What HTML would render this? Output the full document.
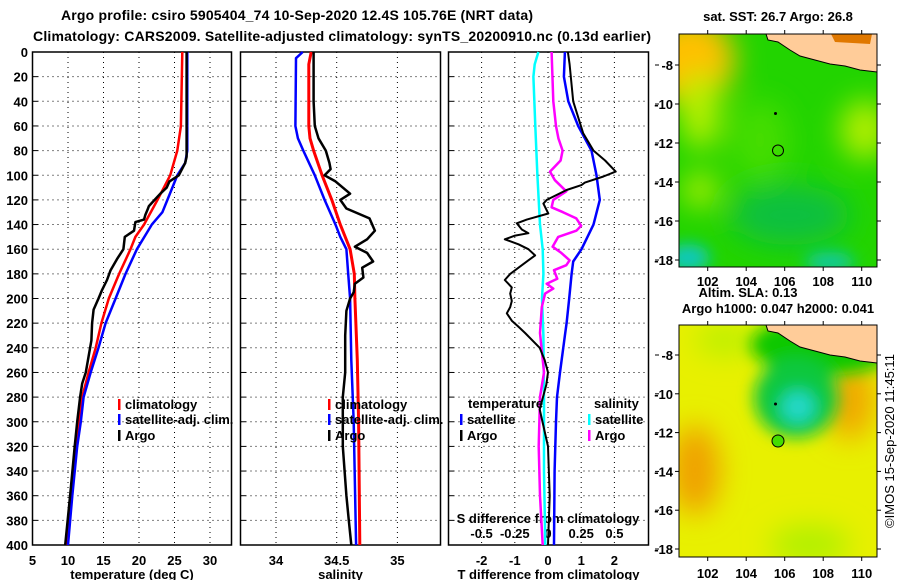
<!DOCTYPE html>
<html><head><meta charset="utf-8"><style>
body{margin:0;background:#fff;}
svg text{font-family:"Liberation Sans",sans-serif;font-weight:bold;fill:#000;}
</style></head><body>
<svg id="c" width="900" height="580" viewBox="0 0 900 580" xmlns="http://www.w3.org/2000/svg">
<defs>
<filter id="bl" x="-50%" y="-50%" width="200%" height="200%"><feGaussianBlur stdDeviation="14"/></filter>
<filter id="bl2" x="-50%" y="-50%" width="200%" height="200%"><feGaussianBlur stdDeviation="8"/></filter>
<clipPath id="m1c"><rect x="679" y="34" width="198" height="233"/></clipPath>
<clipPath id="m2c"><rect x="679" y="325" width="198" height="232"/></clipPath>
</defs>
<text x="297" y="20" font-size="14" text-anchor="middle" textLength="472">Argo profile: csiro 5905404_74 10-Sep-2020 12.4S 105.76E (NRT data)</text>
<text x="342" y="41" font-size="14" text-anchor="middle" textLength="618">Climatology: CARS2009. Satellite-adjusted climatology: synTS_20200910.nc (0.13d earlier)</text>

<g clip-path="url(#m1c)">
<rect x="679" y="34" width="198" height="233" fill="#22d400"/>
<g filter="url(#bl)">
<ellipse cx="690" cy="60" rx="45" ry="45" fill="#ffc000"/>
<ellipse cx="700" cy="110" rx="20" ry="40" fill="#b8f000"/>
<ellipse cx="865" cy="130" rx="25" ry="30" fill="#b0ee00"/>
<ellipse cx="700" cy="190" rx="18" ry="18" fill="#aaee00"/>
<ellipse cx="760" cy="140" rx="30" ry="40" fill="#44dd00"/>
<ellipse cx="790" cy="215" rx="60" ry="30" fill="#10c040"/>
</g>
<g filter="url(#bl2)">
<ellipse cx="688" cy="258" rx="22" ry="14" fill="#10c8c0"/>
<ellipse cx="830" cy="262" rx="25" ry="10" fill="#10c8a8"/>
</g>
<polygon points="766,34 877,34 877,72 860,70 845,66 830,64 815,60 800,56 790,50 778,42 768,40" fill="#ffcc99" stroke="#000" stroke-width="1"/>
<polygon points="831,34 872,34 870,44 835,42" fill="#e07800"/>
</g>
<rect x="679" y="34" width="198" height="233" fill="none" stroke="#000"/>
<circle cx="778" cy="150.5" r="5.5" fill="none" stroke="#000"/>
<circle cx="775.5" cy="113.5" r="1.5" fill="#000"/>
<text x="778" y="21" font-size="13" text-anchor="middle">sat. SST: 26.7 Argo: 26.8</text>
<text x="748" y="297" font-size="13" text-anchor="middle">Altim. SLA: 0.13</text>
<text x="778" y="313" font-size="13" text-anchor="middle">Argo h1000: 0.047 h2000: 0.041</text>

<g clip-path="url(#m2c)">
<rect x="679" y="325" width="198" height="232" fill="#e8f000"/>
<g filter="url(#bl)">
<ellipse cx="695" cy="470" rx="25" ry="45" fill="#f0a000"/>
<ellipse cx="850" cy="400" rx="25" ry="40" fill="#f0a800"/>
<ellipse cx="810" cy="545" rx="40" ry="20" fill="#b0f000"/>
<ellipse cx="725" cy="340" rx="30" ry="15" fill="#b8f000"/>
</g>
<g filter="url(#bl2)">
<ellipse cx="825" cy="345" rx="75" ry="30" fill="#10c800"/>
<ellipse cx="796" cy="398" rx="42" ry="40" fill="#10c840"/>
<ellipse cx="798" cy="407" rx="17" ry="16" fill="#20d8c8"/>
</g>
<polygon points="766,325 877,325 877,363 860,361 845,357 830,355 815,351 800,347 790,341 778,333 768,331" fill="#ffcc99" stroke="#000" stroke-width="1"/>
</g>
<rect x="679" y="325" width="198" height="232" fill="none" stroke="#000"/>
<circle cx="778" cy="441" r="6" fill="#44dd00" stroke="#000"/>
<circle cx="775.5" cy="404" r="1.5" fill="#000"/>
<text transform="translate(894,441) rotate(-90)" font-size="13" text-anchor="middle" style="font-weight:normal">©IMOS 15-Sep-2020 11:45:11</text>
<g id="g"></g>
</svg>
<script>
// ---- data ----
const depthTicks=[0,20,40,60,80,100,120,140,160,180,200,220,240,260,280,300,320,340,360,380,400];
const tempTicks=[5,10,15,20,25,30];
const salTicks=[34,34.5,35];
const tdiffTicks=[-2,-1,0,1,2];
const sdiffTickVals=[-0.5,-0.25,0,0.25,0.5];
const sdiffTickLabels=["-0.5","-0.25","0","0.25","0.5"];
const lonTicks=[102,104,106,108,110];
const latTicks=[-8,-10,-12,-14,-16,-18];

const climTDepth=[0,60,80,100,120,140,150,160,180,200,220,240,260,280,300,320,360,400];
const climT=[26.1,25.9,25.4,24.4,22.6,20.7,19.5,18.8,17.2,15.75,14.7,13.9,12.9,12.0,11.5,11.1,10.35,9.8];
const satTDepth=[0,80,90,100,120,130,140,160,180,200,220,240,260,280,300,320,360,400];
const satT=[26.8,26.8,26.5,25.4,24.0,23.3,21.8,19.7,18.1,16.7,15.3,14.3,13.2,12.2,11.8,11.3,10.6,10.0];
const argoTDepth=[0,85,90,100,105,110,115,120,125,128,132,136,138,145,150,160,168,177,185,193,200,209,220,234,247,260,269,280,300,320,360,400];
const argoT=[26.7,26.7,26.5,25.6,24.3,23.9,23.0,22.2,21.4,21.2,20.9,20.7,19.5,19.3,18.0,17.8,16.9,16.0,15.5,14.8,14.3,13.6,13.4,13.3,12.9,12.5,12.0,11.7,11.3,10.95,10.3,9.6];

const climSDepth=[0,10,60,70,80,100,120,140,160,180,200,250,300,400];
const climS=[34.29,34.27,34.27,34.28,34.31,34.38,34.46,34.53,34.61,34.645,34.65,34.67,34.68,34.69];
const satSDepth=[0,5,60,70,80,100,120,140,150,160,180,200,250,300,400];
const satS=[34.22,34.165,34.16,34.18,34.225,34.32,34.40,34.49,34.53,34.58,34.595,34.61,34.62,34.64,34.66];
const argoSDepth=[0,40,60,70,80,90,95,100,105,115,120,127,135,145,152,158,163,170,175,183,188,195,200,210,230,260,280,320,360,380,400];
const argoS=[34.31,34.31,34.32,34.35,34.41,34.44,34.45,34.40,34.49,34.61,34.53,34.58,34.77,34.815,34.75,34.65,34.75,34.80,34.71,34.72,34.65,34.64,34.61,34.58,34.57,34.57,34.55,34.55,34.58,34.6,34.62];

const satTdDepth=[0,20,40,60,80,100,120,140,160,170,180,200,220,230,260,280,300,340,400];
const satTd=[0.51,0.48,0.61,0.91,1.31,1.46,1.56,1.37,1.01,0.76,0.71,0.64,0.56,0.51,0.36,0.27,0.24,0.2,0.18];
const argoTdDepth=[0,10,40,66,80,88,97,101,106,108,112,120,123,131,136,139,144,147,149,152,156,160,165,169,175,180,185,191,196,202,207,212,218,223,228,240,250,260,270,290,320,360,400];
const argoTd=[0.6,0.65,0.76,1.06,1.37,1.72,2.04,1.67,1.11,1.01,0.56,-0.04,-0.14,0.01,-0.64,-0.94,-0.79,-0.59,-0.99,-1.3,-0.89,-0.59,-0.39,-0.59,-0.89,-1.14,-1.3,-1.09,-1.14,-1.09,-1.14,-1.24,-1.09,-0.89,-0.69,-0.25,-0.1,0,-0.05,-0.25,0.0,0.05,0];
const satSdDepth=[0,10,20,60,100,140,160,180,200,230,280,340,400];
const satSd=[-0.072,-0.1,-0.11,-0.096,-0.08,-0.06,-0.04,-0.035,-0.045,-0.035,-0.03,-0.03,-0.02];
const argoSdDepth=[0,40,60,70,80,88,97,104,113,120,126,130,135,141,145,150,158,163,169,173,177,184,188,192,196,207,228,260,280,320,360,400];
const argoSd=[0.027,0.04,0.06,0.078,0.11,0.095,0.015,0.052,0.138,0.04,0.027,0.113,0.213,0.25,0.213,0.077,0.035,0.1,0.163,0.138,0.045,0.07,-0.01,0.04,-0.022,-0.047,-0.06,-0.03,-0.06,-0.07,-0.06,-0.04];

// ---- axes ----
const Y0=52, Y1=545;
const yD=d=>Y0+d*(Y1-Y0)/400;
const xT=t=>32.5+(t-5)*7.1;
const xS=s=>276+(s-34)*121.4;
const xTd=v=>548+v*33.2;
const xSd=v=>548+v*132.8;
const lonX=l=>707.7+(l-102)*19.25;
const lat1Y=l=>65+(-8-l)*19.5;
const lat2Y=l=>355+(-8-l)*19.4;

const NS="http://www.w3.org/2000/svg";
const g=document.getElementById('g');
function mk(tag,attrs,parent){const e=document.createElementNS(NS,tag);for(const k in attrs)e.setAttribute(k,attrs[k]);(parent||g).appendChild(e);return e;}

const panels=[
 {x0:32.5,x1:231.5,xf:xT,ticks:tempTicks,lab:tempTicks.map(String),title:"temperature (deg C)",name:"temperature-panel"},
 {x0:240.5,x1:440.5,xf:xS,ticks:salTicks,lab:["34","34.5","35"],title:"salinity",name:"salinity-panel"},
 {x0:448.5,x1:648.5,xf:xTd,ticks:tdiffTicks,lab:tdiffTicks.map(String),title:"T difference from climatology",name:"difference-panel"}
];
panels.forEach((p,pi)=>{
 const pg=mk('g',{});
 
 
 depthTicks.forEach(d=>{
  if(d>0&&d<400){const l=mk('line',{x1:p.x0,x2:p.x1,y1:yD(d),y2:yD(d),stroke:'#000','stroke-width':1,'stroke-dasharray':'1,4'},pg);
   }
  mk('line',{x1:p.x0,x2:p.x0+5,y1:yD(d),y2:yD(d),stroke:'#000'},pg);
  if(pi===0){const t=mk('text',{x:28,y:yD(d)+5,'font-size':13,'text-anchor':'end'},pg);t.textContent=d;
   }
 });
 p.ticks.forEach((v,i)=>{
  const x=p.xf(v);
  if(x>p.x0+1&&x<p.x1-1){const l=mk('line',{x1:x,x2:x,y1:Y0,y2:Y1,stroke:'#000','stroke-dasharray':'1,4'},pg);
   }
  const t=mk('text',{x:x,y:565,'font-size':13,'text-anchor':'middle'},pg);t.textContent=p.lab[i];
  
 });
 const r=mk('rect',{x:p.x0,y:Y0,width:p.x1-p.x0,height:Y1-Y0,fill:'none',stroke:'#000','stroke-width':1.5},pg);
 
 const tt=mk('text',{x:(p.x0+p.x1)/2,y:579,'font-size':13,'text-anchor':'middle'},pg);tt.textContent=p.title;
 
});
// S diff axis
const sdl=mk('text',{x:548,y:523,'font-size':13,'text-anchor':'middle'});sdl.textContent="S difference from climatology";

sdiffTickVals.forEach((v,i)=>{const t=mk('text',{x:xSd(v),y:538,'font-size':13,'text-anchor':'middle'});t.textContent=sdiffTickLabels[i];
 });

function line(ds,vs,xf,color,w,name){
 const pts=ds.map((d,i)=>xf(vs[i]).toFixed(1)+','+yD(d).toFixed(1)).join(' ');
 const e=mk('polyline',{points:pts,fill:'none',stroke:color,'stroke-width':w,'stroke-linejoin':'round'});
 
 
}
line(satSdDepth,satSd,xSd,'#00ffff',2.5,'satellite-s-diff-line');
line(argoSdDepth,argoSd,xSd,'#ff00ff',2.5,'argo-s-diff-line');
line(satTdDepth,satTd,xTd,'#0000ff',2.5,'satellite-t-diff-line');
line(argoTdDepth,argoTd,xTd,'#000',2,'argo-t-diff-line');
line(climTDepth,climT,xT,'#ff0000',2.5,'climatology-temp-line');
line(satTDepth,satT,xT,'#0000ff',2.5,'satellite-temp-line');
line(argoTDepth,argoT,xT,'#000',2.5,'argo-temp-line');
line(climSDepth,climS,xS,'#ff0000',3,'climatology-sal-line');
line(satSDepth,satS,xS,'#0000ff',2.5,'satellite-sal-line');
line(argoSDepth,argoS,xS,'#000',2.5,'argo-sal-line');

function leg(x,y,color,label){
 const lg=mk('g',{});
 
 
 mk('rect',{x:x,y:y-10,width:2.5,height:11,fill:color},lg);
 const t=mk('text',{x:x+7,y:y,'font-size':13},lg);t.textContent=label;
}
leg(118,409,'#ff0000','climatology');leg(118,424,'#0000ff','satellite-adj. clim.');leg(118,440,'#000','Argo');
leg(328,409,'#ff0000','climatology');leg(328,424,'#0000ff','satellite-adj. clim.');leg(328,440,'#000','Argo');
const lt=mk('text',{x:468,y:408,'font-size':13});lt.textContent='temperature';

const ls=mk('text',{x:594,y:408,'font-size':13});ls.textContent='salinity';

leg(460,424,'#0000ff','satellite');leg(460,440,'#000','Argo');
leg(588,424,'#00ffff','satellite');leg(588,440,'#ff00ff','Argo');

// map ticks
lonTicks.forEach(l=>{
 const x=lonX(l);
 mk('line',{x1:x,x2:x,y1:34,y2:30,stroke:'#000'});
 mk('line',{x1:x,x2:x,y1:267,y2:271,stroke:'#000'});
 mk('line',{x1:x,x2:x,y1:325,y2:321,stroke:'#000'});
 mk('line',{x1:x,x2:x,y1:557,y2:561,stroke:'#000'});
 const t=mk('text',{x:x,y:286,'font-size':13,'text-anchor':'middle'});t.textContent=l;
 
 const t2=mk('text',{x:x,y:578,'font-size':13,'text-anchor':'middle'});t2.textContent=l;
 
});
latTicks.forEach(l=>{
 [[lat1Y(l),'sst-lat-label'],[lat2Y(l),'sla-lat-label']].forEach(([y,n])=>{
  mk('line',{x1:679,x2:675,y1:y,y2:y,stroke:'#000'});
  mk('line',{x1:877,x2:881,y1:y,y2:y,stroke:'#000'});
  mk('line',{x1:655,x2:659,y1:y,y2:y,stroke:'#000'});
  const t=mk('text',{x:673,y:y+5,'font-size':13,'text-anchor':'end'});t.textContent=l;
  
 });
});
</script>
</body></html>
